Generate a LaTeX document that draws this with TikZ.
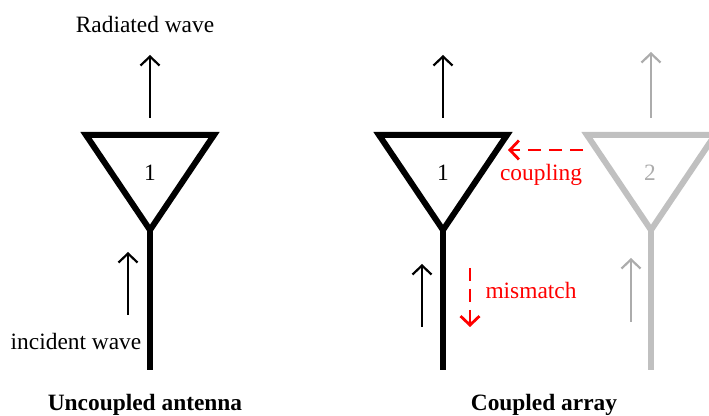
\documentclass[tikz,border=0pt]{standalone}
\usepackage{fontspec}
\setmainfont{Liberation Serif}
\usetikzlibrary{arrows.meta,positioning}
\tikzset{
  antln/.style={line width=3pt, line join=miter},
  waveln/.style={-{Straight Barb[length=4.5pt,width=9.5pt]}, line width=1.1pt},
  effectln/.style={-{Straight Barb[length=4.5pt,width=9.5pt]}, line width=1.4pt, red, dash pattern=on 6.5pt off 4pt},
  lbl/.style={font=\fontsize{11.7}{14}\selectfont, inner sep=1pt},
}
\definecolor{ghost}{RGB}{192,192,192}
\definecolor{ghostarr}{RGB}{172,172,172}

\begin{document}
\begin{tikzpicture}[x=0.5pt, y=-0.5pt]
  \useasboundingbox (0,0) rectangle (709,416);
  \clip (0,0) rectangle (709,416);
  % antennas (triangle + feed line)
  \foreach \nm/\cx/\col in {a/150/black, b/443/black, c/651/ghost} {
    \draw[antln, \col] (\cx-64,135) -- (\cx+64,135) -- (\cx,230) -- cycle;
    \draw[antln, \col] (\cx,230) -- (\cx,370);
  }
  % element numbers
  \node[lbl] (numA) at (150,173) {1};
  \node[lbl] (numB) at (443,173) {1};
  \node[lbl, ghostarr] (numC) at (650,173) {2};
  % radiated waves
  \coordinate (radA0) at (150,118); \coordinate (radA1) at (150,55);
  \coordinate (radB0) at (443,118); \coordinate (radB1) at (443,55);
  \coordinate (radC0) at (651,118); \coordinate (radC1) at (651,52);
  \draw[waveln] (radA0) -- (radA1);
  \draw[waveln] (radB0) -- (radB1);
  \draw[waveln, ghostarr] (radC0) -- (radC1);
  \node[lbl] (radtxt) at (145,25) {Radiated wave};
  % incident waves
  \coordinate (incA0) at (128,315); \coordinate (incA1) at (128,252);
  \coordinate (incB0) at (422,327); \coordinate (incB1) at (422,264);
  \coordinate (incC0) at (631,322); \coordinate (incC1) at (631,258);
  \draw[waveln] (incA0) -- (incA1);
  \draw[waveln] (incB0) -- (incB1);
  \draw[waveln, ghostarr] (incC0) -- (incC1);
  \node[lbl] (inctxt) at (76,342) {incident wave};
  % coupling and mismatch
  \coordinate (cpl0) at (583,150); \coordinate (cpl1) at (508,150);
  \draw[effectln] (cpl0) -- (cpl1);
  \node[lbl, red] (cpltxt) at (541,175) {coupling};
  \coordinate (mis0) at (470,268); \coordinate (mis1) at (470,327);
  \draw[effectln] (mis0) -- (mis1);
  \node[lbl, red] (mistxt) at (531,291) {mismatch};
  % captions
  \node[lbl, font=\fontsize{11.7}{14}\selectfont\bfseries] (capA) at (145,405) {Uncoupled antenna};
  \node[lbl, font=\fontsize{11.7}{14}\selectfont\bfseries] (capB) at (544,405) {Coupled array};
\end{tikzpicture}
\end{document}
